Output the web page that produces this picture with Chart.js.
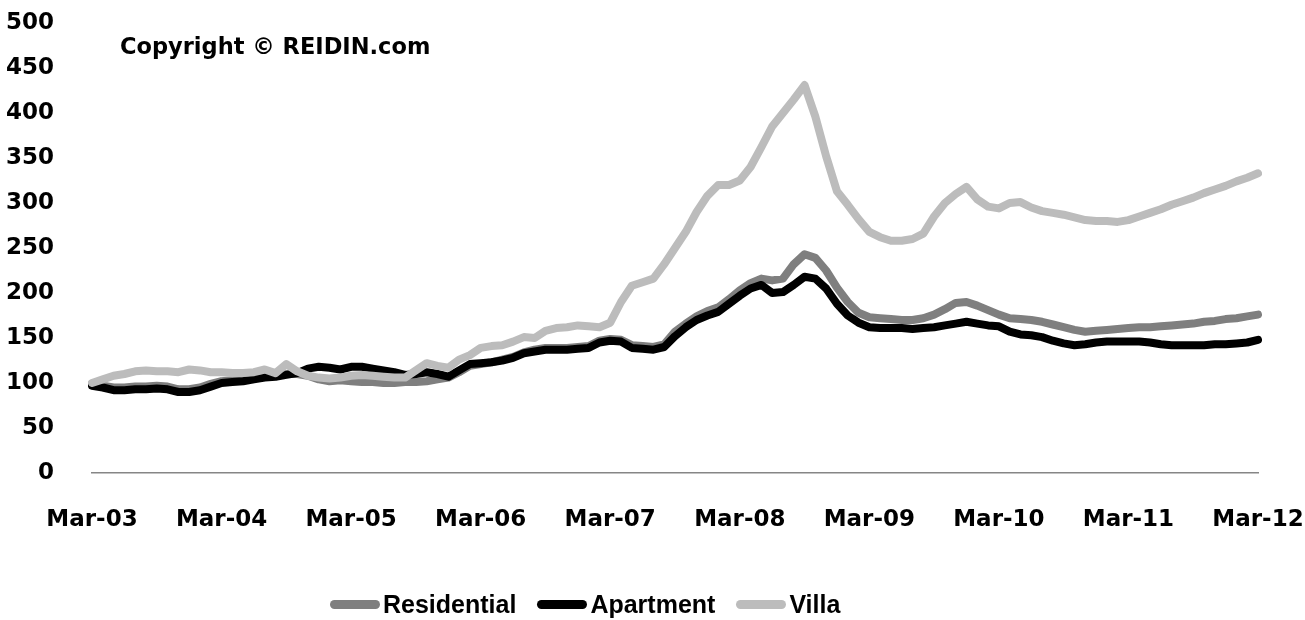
<!DOCTYPE html>
<html>
<head>
<meta charset="utf-8">
<script src="https://cdn.jsdelivr.net/npm/chart.js@4/dist/chart.umd.min.js"></script>
<style>
  html, body { margin: 0; padding: 0; background: #fff; }
  #wrap { position: relative; width: 1305px; height: 620px; }
  #legend {
    position: absolute; left: 330px; top: 590px;
    display: flex; align-items: center;
    font-family: "Liberation Sans Narrow", "Liberation Sans", sans-serif;
    font-weight: bold; font-size: 25px; color: #000;
  }
  .item { display: flex; align-items: center; margin-right: 21px; }
  .swatch { width: 50px; height: 9px; border-radius: 5px; margin-right: 3px; }
</style>
</head>
<body>
<div id="wrap">
  <canvas id="chart" width="1305" height="620"></canvas>
  <div id="legend"></div>
</div>
<script>
// ===== DATA (monthly index, Mar-03 = 100) =====
const monthNames = ['Jan','Feb','Mar','Apr','May','Jun','Jul','Aug','Sep','Oct','Nov','Dec'];
const labels = [];
for (let i = 0; i < 109; i++) {
    const m = (2 + i) % 12;
    const y = 3 + Math.floor((2 + i) / 12);
    labels.push(monthNames[m] + '-' + String(y).padStart(2, '0'));
}

const residential = [
    99, 97, 95, 95, 96, 96, 97, 96, 93, 93, 95, 99,
    102, 103, 104, 106, 107, 108, 110, 110, 108, 104, 102, 103,
    102, 101, 101, 100, 100, 101, 101, 102, 104, 106, 112, 119,
    121, 123, 126, 129, 134, 137, 139, 139, 139, 140, 141, 147,
    149, 148, 142, 141, 140, 143, 157, 166, 174, 180, 184, 193,
    203, 211, 216, 214, 216, 232, 243, 239, 225, 206, 190, 178,
    173, 172, 171, 170, 170, 172, 176, 182, 189, 190, 186, 181,
    176, 172, 171, 170, 168, 165, 162, 159, 157, 158, 159, 160,
    161, 162, 162, 163, 164, 165, 166, 168, 169, 171, 172, 174,
    176
];

const apartment = [
    97, 95, 92, 92, 93, 93, 94, 93, 90, 90, 92, 96,
    100, 101, 102, 104, 106, 107, 109, 111, 116, 118, 117, 115,
    118, 118, 116, 114, 112, 109, 110, 112, 110, 107, 114, 121,
    122, 123, 125, 128, 133, 135, 137, 137, 137, 138, 139, 145,
    147, 146, 139, 138, 137, 140, 152, 162, 170, 175, 179, 188,
    197, 205, 209, 200, 201, 209, 218, 216, 205, 188, 175, 167,
    162, 161, 161, 161, 160, 161, 162, 164, 166, 168, 166, 164,
    163, 157, 154, 153, 151, 147, 144, 142, 143, 145, 146, 146,
    146, 146, 145, 143, 142, 142, 142, 142, 143, 143, 144, 145,
    148
];

const villa = [
    100, 104, 108, 110, 113, 114, 113, 113, 112, 115, 114, 112,
    112, 111, 111, 112, 115, 111, 121, 113, 108, 106, 105, 106,
    108, 109, 108, 107, 106, 106, 114, 122, 119, 117, 126, 131,
    139, 141, 142, 146, 151, 150, 158, 161, 162, 164, 163, 162,
    167, 190, 208, 212, 216, 232, 250, 268, 290, 308, 320, 320,
    325, 340, 362, 385, 400, 415, 431, 396, 352, 313, 298, 282,
    268, 262, 258, 258, 260, 266, 285, 300, 310, 318, 304, 296,
    294, 300, 301, 295, 291, 289, 287, 284, 281, 280, 280, 279,
    281, 285, 289, 293, 298, 302, 306, 311, 315, 319, 324, 328,
    333
];

const seriesNames = ['Residential', 'Apartment', 'Villa'];
const seriesColors = ['#7f7f7f', '#000000', '#bcbcbc'];
const yTicks = [0, 50, 100, 150, 200, 250, 300, 350, 400, 450, 500];

// ===== CHART =====
const tickFont = { family: '"DejaVu Sans", sans-serif', weight: 'bold', size: 23 };

const copyrightPlugin = {
    id: 'copyright',
    afterDraw(chart) {
        const ctx = chart.ctx;
        ctx.save();
        ctx.font = 'bold 22.5px "DejaVu Sans", sans-serif';
        ctx.fillStyle = '#000';
        ctx.textBaseline = 'middle';
        ctx.fillText('Copyright \u00A9 REIDIN.com', 120, 48);
        ctx.restore();
    }
};

const mk = (name, data, color, order) => ({
    label: name,
    data: data,
    borderColor: color,
    backgroundColor: color,
    borderWidth: 8,
    pointRadius: 0,
    tension: 0,
    borderJoinStyle: 'round',
    borderCapStyle: 'round',
    order: order
});

new Chart(document.getElementById('chart'), {
    type: 'line',
    data: {
        labels: labels,
        datasets: [
            mk(seriesNames[0], residential, seriesColors[0], 3),
            mk(seriesNames[1], apartment, seriesColors[1], 2),
            mk(seriesNames[2], villa, seriesColors[2], 1)
        ]
    },
    options: {
        responsive: false,
        animation: false,
        layout: { padding: { top: 23, right: 47, bottom: 0, left: 0 } },
        plugins: { legend: { display: false }, tooltip: { enabled: false } },
        scales: {
            x: {
                offset: false,
                grid: { display: true, drawOnChartArea: false, drawTicks: false },
                border: { display: true, color: '#868686', width: 1.5 },
                ticks: {
                    autoSkip: false,
                    maxRotation: 0,
                    padding: 33,
                    color: '#000',
                    font: tickFont,
                    callback: (v, i) => (i % 12 === 0 ? labels[i] : '')
                },
                afterFit: (s) => {
                    s.height = 147;
                    s.paddingLeft = 0;
                    s.paddingRight = 0;
                }
            },
            y: {
                min: 0,
                max: 500,
                grid: { display: false },
                border: { display: false },
                afterBuildTicks: (s) => { s.ticks = yTicks.map(v => ({ value: v })); },
                ticks: { padding: 30, color: '#000', font: tickFont },
                afterFit: (s) => {
                    s.width = 92;
                    s.paddingTop = 0;
                    s.paddingBottom = 0;
                }
            }
        }
    },
    plugins: [copyrightPlugin]
});

// ===== LEGEND =====
const legend = document.getElementById('legend');
seriesNames.forEach((name, i) => {
    const item = document.createElement('div');
    item.className = 'item';
    item.innerHTML = `<span class="swatch" style="background:${seriesColors[i]}"></span><span>${name}</span>`;
    legend.appendChild(item);
});
</script>
</body>
</html>
